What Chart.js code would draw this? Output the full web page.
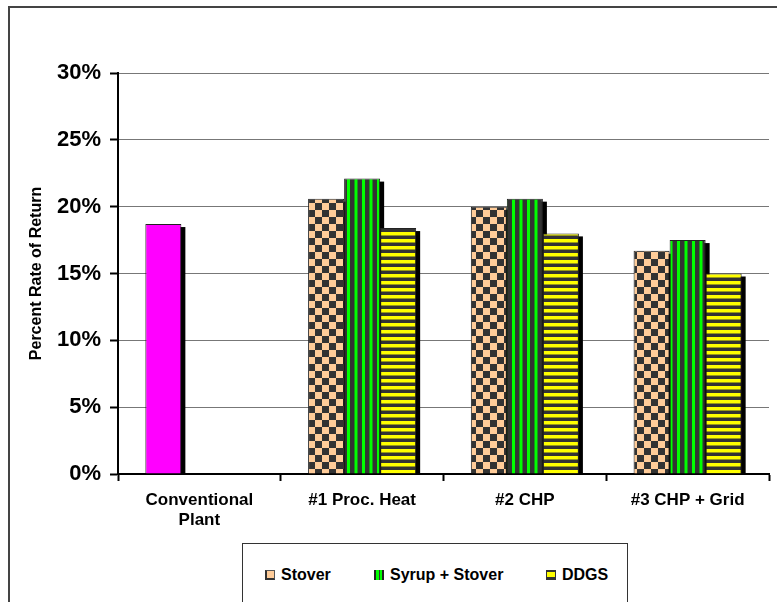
<!DOCTYPE html>
<html>
<head>
<meta charset="utf-8">
<script src="https://cdn.jsdelivr.net/npm/chart.js@4/dist/chart.umd.min.js"></script>
<style>
  html, body { margin:0; padding:0; background:#fff; overflow:hidden; }
  body { width:777px; height:602px; position:relative; font-family:"Liberation Sans", Arial, sans-serif; }
  #frame { position:absolute; left:8px; top:6px; width:800px; height:700px; border:2px solid #444; box-sizing:border-box; }
  #wrap { position:absolute; left:0; top:0; width:777px; height:602px; }
  #legend { position:absolute; left:242px; top:543px; width:386px; height:100px; border:1.5px solid #333; box-sizing:border-box; background:#fff; }
  .item { position:absolute; top:22px; font-weight:bold; font-size:16px; line-height:18px; color:#000; white-space:nowrap; }
  .mk { position:absolute; left:0; top:4px; width:10px; height:10px; box-sizing:border-box; }
  .item span.t { position:absolute; left:16px; top:0; }
</style>
</head>
<body>
<div id="frame"></div>
<div id="wrap"><canvas id="c" width="777" height="602"></canvas></div>
<div id="legend"></div>
<script>
const categories = [["Conventional", "Plant"], "#1 Proc. Heat", "#2 CHP", "#3 CHP + Grid"];
const seriesNames = ["Stover", "Syrup + Stover", "DDGS"];
const stover = [18.7, 20.6, 20.0, 16.7];
const syrupStover = [null, 22.1, 20.6, 17.5];
const ddgs = [null, 18.4, 18.0, 15.0];
const yTicks = [0, 5, 10, 15, 20, 25, 30];

function makePattern(w, h, draw) {
  const c = document.createElement('canvas');
  c.width = w; c.height = h;
  const x = c.getContext('2d');
  draw(x);
  return document.getElementById('c').getContext('2d').createPattern(c, 'repeat');
}
const checker = makePattern(14, 14, x => {
  x.fillStyle = '#FFCC99'; x.fillRect(0, 0, 14, 14);
  x.fillStyle = '#333333'; x.fillRect(0, 0, 7, 7); x.fillRect(7, 7, 7, 7);
});
const vstripes = makePattern(15, 8, x => {
  x.fillStyle = '#333333'; x.fillRect(0, 0, 15, 8);
  x.fillStyle = '#00FF00'; x.fillRect(2, 0, 3, 8); x.fillRect(9.5, 0, 3, 8);
});
const hstripes = makePattern(8, 7, x => {
  x.fillStyle = '#333333'; x.fillRect(0, 0, 8, 7);
  x.fillStyle = '#FFFF00'; x.fillRect(0, 1, 8, 3.5);
});

const shadowPlugin = {
  id: 'shadow',
  beforeDatasetsDraw(chart) {
    const ctx = chart.ctx, a = chart.chartArea;
    ctx.save();
    ctx.beginPath();
    ctx.rect(a.left, a.top - 10, a.right - a.left + 10, a.bottom - a.top + 10);
    ctx.clip();
    ctx.fillStyle = '#000';
    chart.data.datasets.forEach((ds, i) => {
      chart.getDatasetMeta(i).data.forEach((bar, j) => {
        if (ds.data[j] == null) return;
        const p = bar.getProps(['x', 'y', 'base', 'width'], true);
        ctx.fillRect(p.x - p.width / 2 + 4, p.y + 3, p.width, p.base - p.y);
      });
    });
    ctx.restore();
  }
};

const FONT = '"Liberation Sans", Arial, sans-serif';

new Chart(document.getElementById('c'), {
  type: 'bar',
  data: {
    labels: categories,
    datasets: [
      { label: seriesNames[0], data: stover, backgroundColor: ['#FF00FF', checker, checker, checker], borderColor: '#222', borderWidth: 1 },
      { label: seriesNames[1], data: syrupStover, backgroundColor: vstripes, borderColor: '#222', borderWidth: 1 },
      { label: seriesNames[2], data: ddgs, backgroundColor: hstripes, borderColor: '#222', borderWidth: 1 }
    ]
  },
  options: {
    responsive: false,
    animation: false,
    devicePixelRatio: 1,
    categoryPercentage: 0.664,
    barPercentage: 1.0,
    layout: { padding: { top: 73, right: 8, left: 0, bottom: 0 } },
    plugins: { legend: { display: false }, tooltip: { enabled: false } },
    scales: {
      x: {
        z: 1,
        grid: { offset: true, drawOnChartArea: false, drawTicks: true, tickLength: 7, tickColor: '#000', tickWidth: 2 },
        border: { color: '#000', width: 2 },
        ticks: { color: '#000', padding: 10, maxRotation: 0, autoSkip: false, font: { family: FONT, size: 17, weight: 'bold', lineHeight: 1.15 } },
        afterFit(s) { s.height = 128; }
      },
      y: {
        min: 0, max: 30,
        afterBuildTicks(s) { s.ticks = yTicks.map(v => ({ value: v })); },
        grid: { color: '#777', lineWidth: 1, drawTicks: true, tickLength: 8, tickColor: '#000', tickWidth: 2 },
        border: { color: '#000', width: 2 },
        ticks: { color: '#000', padding: 9, font: { family: FONT, size: 22, weight: 'bold' }, callback: v => v + '%' },
        title: { display: true, text: 'Percent Rate of Return', color: '#000', padding: { top: 27, bottom: 0 }, font: { family: FONT, size: 16, weight: 'bold' } },
        afterFit(s) { s.width = 118; }
      }
    }
  },
  plugins: [shadowPlugin]
});

const legendEl = document.getElementById('legend');
const legendItems = [
  { name: seriesNames[0], left: 22, css: 'background:#FFCC99;border-left:2px solid #333;border-bottom:2px solid #333;border-top:1px solid #555;border-right:1px solid #555;' },
  { name: seriesNames[1], left: 131, css: 'background:linear-gradient(to right,#222 0 2px,#00FF00 2px 5px,#333 5px 6px,#00FF00 6px 8px,#222 8px);' },
  { name: seriesNames[2], left: 303, css: 'background:#FFFF00;border-top:2px solid #333;border-bottom:3px solid #333;border-left:1px solid #333;border-right:1px solid #333;' }
];
legendItems.forEach(it => {
  const d = document.createElement('div');
  d.className = 'item';
  d.style.left = it.left + 'px';
  d.innerHTML = '<div class="mk" style="' + it.css + '"></div><span class="t"></span>';
  d.querySelector('.t').textContent = it.name;
  legendEl.appendChild(d);
});
</script>
</body>
</html>
